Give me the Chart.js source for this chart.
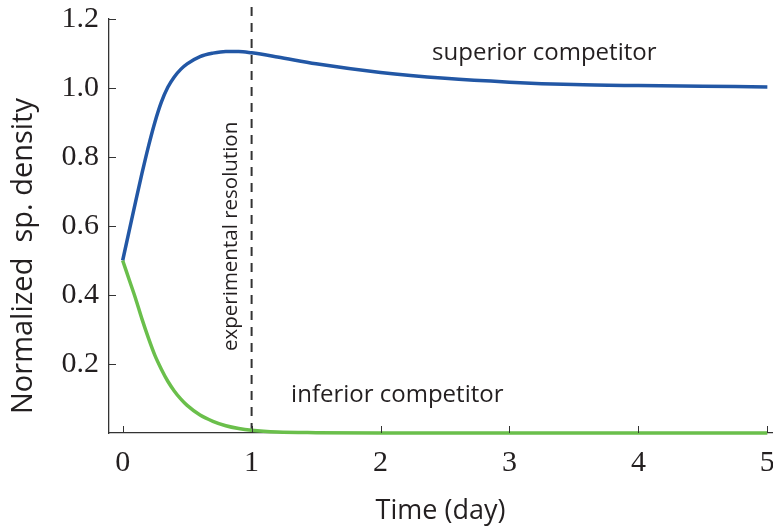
<!DOCTYPE html>
<html>
<head>
<meta charset="utf-8">
<script src="https://cdn.jsdelivr.net/npm/chart.js@4"></script>
<style>
  body { margin: 0; background: #fff; }
  #myChart { display: block; }
</style>
</head>
<body>
<canvas id="myChart" width="773" height="531"></canvas>
<script>
// time points (days) and normalized densities of the two competitors
const timeDays = [0, 0.05, 0.1, 0.15, 0.2, 0.25, 0.3, 0.35, 0.4, 0.45, 0.5, 0.6, 0.7, 0.8, 0.9, 1.0, 1.2, 1.5, 2, 2.5, 3, 3.5, 4, 4.5, 5];
const superior = [0.5, 0.585, 0.67, 0.753, 0.831, 0.901, 0.959, 1.002, 1.032, 1.054, 1.07, 1.091, 1.101, 1.106, 1.106, 1.102, 1.09, 1.07, 1.045, 1.028, 1.017, 1.01, 1.007, 1.005, 1.003];
const inferior = [0.5, 0.445, 0.39, 0.33, 0.275, 0.225, 0.185, 0.15, 0.122, 0.099, 0.08, 0.052, 0.034, 0.021, 0.013, 0.008, 0.003, 0.001, 0, 0, 0, 0, 0, 0, 0];

const xTicks = [0, 1, 2, 3, 4, 5];
const yTicks = [0.2, 0.4, 0.6, 0.8, 1.0, 1.2];
const resolutionDay = 1;

// text labels placed in data coordinates
const notes = [
  { text: 'superior competitor', x: 3.27, y: 1.1, rot: 0, size: 24 },
  { text: 'inferior competitor', x: 2.13, y: 0.11, rot: 0, size: 24 },
  { text: 'experimental resolution', x: 0.84, y: 0.57, rot: -Math.PI / 2, size: 20.5 }
];

const ink = '#231f20';

function toPoints(ys) {
  return timeDays.map((t, i) => ({ x: t, y: ys[i] }));
}

const extras = {
  id: 'extras',
  beforeDatasetsDraw(chart) {
    const ctx = chart.ctx;
    const xs = chart.scales.x, ys = chart.scales.y;
    const px = xs.getPixelForValue(resolutionDay);
    ctx.save();
    ctx.strokeStyle = '#333';
    ctx.lineWidth = 2;
    ctx.setLineDash([9, 7]);
    ctx.beginPath();
    ctx.moveTo(px, ys.top - 12);
    ctx.lineTo(px, ys.bottom);
    ctx.stroke();
    ctx.restore();
  },
  afterDraw(chart) {
    const ctx = chart.ctx;
    const xs = chart.scales.x, ys = chart.scales.y;
    ctx.save();
    // inward tick marks
    ctx.strokeStyle = '#333';
    ctx.lineWidth = 1;
    ctx.beginPath();
    xTicks.forEach(v => {
      const p = Math.round(xs.getPixelForValue(v)) + 0.5;
      ctx.moveTo(p, ys.bottom);
      ctx.lineTo(p, ys.bottom - 7);
    });
    yTicks.forEach(v => {
      const p = Math.round(ys.getPixelForValue(v)) + 0.5;
      ctx.moveTo(xs.left, p);
      ctx.lineTo(xs.left + 7, p);
    });
    ctx.stroke();

    // annotations
    ctx.fillStyle = ink;
    ctx.textAlign = 'center';
    ctx.textBaseline = 'middle';
    notes.forEach(n => {
      ctx.save();
      ctx.translate(xs.getPixelForValue(n.x), ys.getPixelForValue(n.y));
      ctx.rotate(n.rot);
      ctx.font = n.size + 'px "Open Sans"';
      ctx.fillText(n.text, 0, 0);
      ctx.restore();
    });

    // y axis title
    ctx.save();
    ctx.translate(24, 256);
    ctx.rotate(-Math.PI / 2);
    ctx.font = '29px "Open Sans"';
    ctx.fillText('Normalized  sp. density', 0, 0);
    ctx.restore();
    ctx.restore();
  }
};

const myChart = new Chart('myChart', {
  type: 'line',
  data: {
    datasets: [
      {
        label: 'inferior competitor',
        data: toPoints(inferior),
        borderColor: '#6abf4b',
        borderWidth: 3.5,
        pointRadius: 0,
        cubicInterpolationMode: 'monotone',
        clip: false
      },
      {
        label: 'superior competitor',
        data: toPoints(superior),
        borderColor: '#2257a5',
        borderWidth: 3.5,
        pointRadius: 0,
        cubicInterpolationMode: 'monotone',
        clip: false
      }
    ]
  },
  options: {
    responsive: false,
    animation: false,
    layout: { padding: { top: 19, right: 1, left: 0, bottom: 0 } },
    plugins: { legend: { display: false }, tooltip: { enabled: false } },
    scales: {
      x: {
        type: 'linear',
        min: -0.106,
        max: 5.036,
        z: 1,
        afterBuildTicks: s => { s.ticks = xTicks.map(v => ({ value: v })); },
        afterFit: s => { s.height = 98; s.paddingLeft = 0; s.paddingRight = 0; },
        grid: { display: false, drawTicks: false },
        border: { display: true, color: '#333', width: 1.3 },
        ticks: {
          padding: 12,
          color: ink,
          font: { family: '"Liberation Serif"', size: 30 },
          maxRotation: 0
        },
        title: {
          display: true,
          text: 'Time (day)',
          color: ink,
          font: { family: '"Open Sans"', size: 27 },
          padding: { top: 0, bottom: 3 }
        }
      },
      y: {
        min: 0,
        max: 1.2,
        afterBuildTicks: s => { s.ticks = yTicks.map(v => ({ value: v })); },
        afterFit: s => { s.width = 109; s.paddingTop = 0; s.paddingBottom = 0; },
        grid: { display: false, drawTicks: false },
        border: { display: true, color: '#333', width: 1.3 },
        ticks: {
          padding: 10,
          color: ink,
          font: { family: '"Liberation Serif"', size: 30 },
          callback: v => v.toFixed(1)
        }
      }
    }
  },
  plugins: [extras]
});
</script>
</body>
</html>
